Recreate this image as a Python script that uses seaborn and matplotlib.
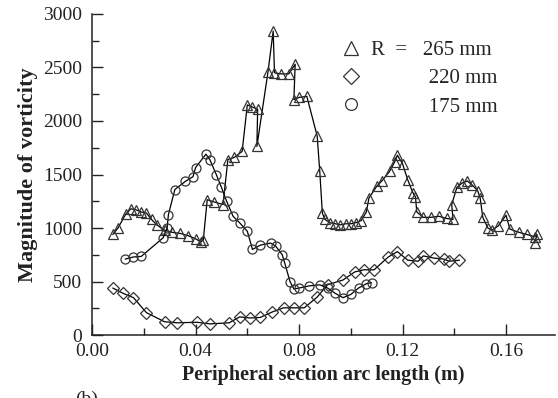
import matplotlib
matplotlib.use("Agg")
import matplotlib.pyplot as plt
import seaborn as sns
import pandas as pd
from matplotlib.ticker import MultipleLocator
from matplotlib.lines import Line2D

# R = 265 mm (triangles)
x265 = [0.008, 0.010, 0.013, 0.015, 0.017, 0.019, 0.021, 0.023, 0.025, 0.028, 0.031, 0.034,
        0.037, 0.040, 0.042, 0.043, 0.0445, 0.047, 0.0506, 0.0525, 0.055, 0.058, 0.060, 0.062,
        0.064, 0.0637, 0.068, 0.070, 0.0705, 0.073, 0.076, 0.0785, 0.078, 0.080, 0.083, 0.087,
        0.088, 0.089, 0.090, 0.092, 0.094, 0.096, 0.098, 0.100, 0.102, 0.104, 0.106, 0.107,
        0.110, 0.112, 0.115, 0.117, 0.118, 0.120, 0.122, 0.124, 0.125, 0.1255, 0.128, 0.131,
        0.134, 0.137, 0.1395, 0.139, 0.141, 0.143, 0.145, 0.147, 0.149, 0.150, 0.151, 0.153,
        0.1545, 0.157, 0.160, 0.1615, 0.165, 0.168, 0.171, 0.172, 0.171]
y265 = [940, 1000, 1130, 1180, 1170, 1150, 1140, 1080, 1030, 980, 960, 950,
        930, 900, 870, 890, 1265, 1245, 1220, 1640, 1660, 1716, 2150, 2130,
        2110, 1762, 2460, 2840, 2450, 2440, 2440, 2530, 2200, 2220, 2230, 1860,
        1530, 1140, 1080, 1050, 1040, 1030, 1040, 1040, 1050, 1070, 1150, 1280,
        1390, 1440, 1530, 1620, 1680, 1600, 1450, 1330, 1290, 1150, 1100, 1100,
        1110, 1090, 1080, 1220, 1380, 1420, 1440, 1400, 1350, 1280, 1100, 1000,
        980, 1020, 1120, 990, 960, 940, 920, 940, 860]

# R = 220 mm (diamonds)
x220 = [0.008, 0.012, 0.016, 0.021, 0.028, 0.033, 0.0405, 0.0456, 0.053, 0.057, 0.061, 0.065,
        0.0695, 0.074, 0.078, 0.082, 0.087, 0.091, 0.097, 0.1015, 0.105, 0.109, 0.1145, 0.118,
        0.122, 0.126, 0.128, 0.132, 0.136, 0.138, 0.142]
y220 = [440, 390, 350, 210, 125, 115, 120, 105, 115, 170, 160, 165,
        215, 255, 255, 255, 355, 470, 515, 590, 610, 610, 730, 780,
        700, 690, 740, 720, 710, 690, 700]

# R = 175 mm (circles)
x175 = [0.0128, 0.016, 0.019, 0.0275, 0.029, 0.0295, 0.032, 0.036, 0.039, 0.040, 0.044, 0.0455,
        0.048, 0.050, 0.052, 0.0545, 0.057, 0.060, 0.062, 0.065, 0.069, 0.071, 0.0735, 0.0745,
        0.0765, 0.078, 0.080, 0.084, 0.088, 0.091, 0.094, 0.097, 0.100, 0.103, 0.106, 0.108]
y175 = [710, 730, 735, 910, 1000, 1125, 1360, 1435, 1480, 1565, 1690, 1640,
        1500, 1380, 1250, 1110, 1050, 970, 800, 840, 860, 830, 750, 670,
        500, 430, 440, 460, 470, 440, 390, 350, 380, 440, 480, 490]

legend_labels = ["R  =   265 mm", "220 mm", "175 mm"]

sns.set_theme(style="white")
plt.rcParams["font.family"] = ["Liberation Serif", "DejaVu Serif"]

fig = plt.figure(figsize=(5.58, 3.98), dpi=100)
ax = fig.add_axes([0.165, 0.158, 0.83, 0.807])

series = [(x265, y265, "^", 7.5), (x220, y220, "D", 6.0), (x175, y175, "o", 6.5)]
for xs, ys, mk, ms in series:
    df = pd.DataFrame({"x": xs, "y": ys})
    sns.lineplot(data=df, x="x", y="y", sort=False, estimator=None, ax=ax,
                 color="black", linewidth=0.9, marker=mk, markersize=ms,
                 markerfacecolor="none", markeredgecolor="#333333",
                 markeredgewidth=0.9)

ax.set_xlim(0, 0.179)
ax.set_ylim(0, 3000)
ax.xaxis.set_major_locator(MultipleLocator(0.04))
ax.xaxis.set_minor_locator(MultipleLocator(0.02))
ax.yaxis.set_major_locator(MultipleLocator(500))
ax.yaxis.set_minor_locator(MultipleLocator(250))
ax.xaxis.set_major_formatter(matplotlib.ticker.FormatStrFormatter("%.2f"))
ax.tick_params(which="major", direction="in", length=8, width=1, labelsize=14,
               colors="#222222")
ax.tick_params(which="minor", direction="in", length=5, width=1, colors="#222222")
ax.tick_params(axis="x", which="both", bottom=True, top=False, pad=6)
ax.tick_params(axis="y", which="both", left=True, right=False, pad=7)
for s in ["top", "right"]:
    ax.spines[s].set_visible(False)
for s in ["left", "bottom"]:
    ax.spines[s].set_color("#222222")
    ax.spines[s].set_linewidth(1.1)

ax.set_xlabel("Peripheral section arc length (m)", fontsize=14.5, fontweight="bold",
              labelpad=3, color="#222222")
ax.set_ylabel("Magnitude of vorticity", fontsize=16, fontweight="bold",
              labelpad=4, color="#222222")

handles = [Line2D([], [], linestyle="none", marker=m, markersize=s + 2,
                  markerfacecolor="none", markeredgecolor="#333333", markeredgewidth=0.9)
           for _, _, m, s in series]
labels = [legend_labels[0], " " * 11 + legend_labels[1], " " * 11 + legend_labels[2]]
leg = ax.legend(handles, labels, loc="upper left", bbox_to_anchor=(0.536, 0.918),
                frameon=False, fontsize=15, handletextpad=0.45, labelspacing=0.42,
                handlelength=1.0, borderaxespad=0, borderpad=0)

fig.text(0.134, -0.003, "(b)", fontsize=14, color="#222222", va="center")

fig.savefig("out.png", dpi=100)
